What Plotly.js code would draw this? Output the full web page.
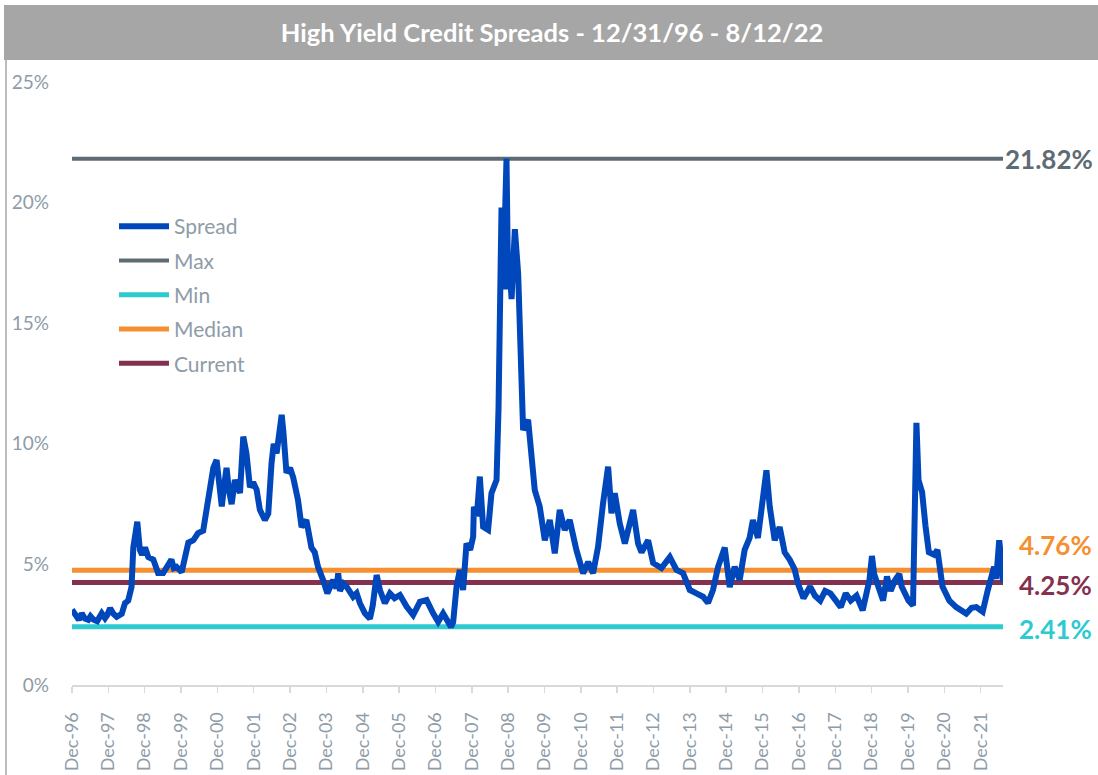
<!DOCTYPE html>
<html>
<head>
<meta charset="utf-8">
<script src="https://cdn.plot.ly/plotly-3.0.1.min.js"></script>
<style>
html,body{margin:0;padding:0;background:#fff;}
#chart{width:1098px;height:775px;}
</style>
</head>
<body>
<div id="chart"></div>
<script>
// ---- Data ----
const spreadDates = [
'1996-12-31','1997-01-20','1997-02-15','1997-03-10','1997-04-08','1997-05-10','1997-06-12','1997-07-05','1997-08-02','1997-09-10','1997-10-26','1997-11-28','1997-12-20',
'1998-01-18','1998-02-20','1998-03-25','1998-05-15','1998-06-17','1998-07-19','1998-08-21','1998-09-08','1998-10-05','1998-10-18','1998-11-13','1998-12-05',
'1999-01-04','1999-02-06','1999-03-28','1999-05-15','1999-07-05','1999-08-10','1999-09-26','1999-10-20','1999-11-16',
'2000-01-07','2000-02-10','2000-03-14','2000-05-03','2000-06-20','2000-08-10','2000-09-30','2000-10-25','2000-11-20','2000-12-23',
'2001-01-20','2001-02-13','2001-03-10','2001-04-02','2001-04-25','2001-05-23','2001-06-25','2001-07-20','2001-08-15','2001-09-17','2001-10-19','2001-11-23','2001-12-25',
'2002-01-29','2002-03-03','2002-04-22','2002-05-26','2002-06-28','2002-07-20','2002-08-18','2002-10-08','2002-10-25','2002-11-25','2002-12-31',
'2003-02-01','2003-03-21','2003-04-26','2003-06-13','2003-08-03','2003-09-05','2003-10-08','2003-11-28',
'2004-01-10','2004-03-09','2004-04-10','2004-04-28','2004-05-15','2004-06-20','2004-07-21','2004-09-25','2004-10-30','2004-12-02',
'2005-01-21','2005-03-13','2005-04-10','2005-05-19','2005-06-21','2005-08-10','2005-09-29','2005-11-15',
'2006-01-08','2006-03-16','2006-05-21','2006-07-28','2006-10-03','2006-12-08',
'2007-01-27','2007-03-18','2007-05-25','2007-06-05','2007-06-27','2007-07-31','2007-09-02','2007-10-05','2007-11-08','2007-12-15',
'2008-01-14','2008-01-21','2008-02-20','2008-03-21','2008-04-23','2008-06-12','2008-07-16','2008-09-05','2008-09-25','2008-10-08','2008-10-25','2008-11-10','2008-11-27','2008-12-14','2008-12-31',
'2009-01-15','2009-02-03','2009-03-08','2009-04-10','2009-04-27','2009-05-14','2009-05-30','2009-07-19','2009-08-22','2009-09-24','2009-11-13',
'2010-01-03','2010-02-22','2010-04-13','2010-06-02','2010-07-22','2010-09-10','2010-11-16',
'2011-01-23','2011-03-15','2011-05-03','2011-06-22','2011-08-11','2011-10-01','2011-11-04','2011-12-07',
'2012-01-26','2012-03-17','2012-06-08','2012-07-28','2012-09-01','2012-11-06','2012-12-26',
'2013-03-20','2013-06-12','2013-08-18','2013-10-23','2013-12-30',
'2014-03-07','2014-05-12','2014-07-01','2014-08-20','2014-10-10','2014-12-16',
'2015-02-04','2015-03-26','2015-05-15','2015-07-04','2015-08-23','2015-09-25','2015-11-14','2015-12-19',
'2016-02-08','2016-03-12','2016-05-01','2016-06-20','2016-08-09','2016-09-28','2016-11-17','2016-12-21',
'2017-02-14','2017-04-22','2017-06-10','2017-08-02','2017-09-20','2017-11-12',
'2018-01-10','2018-02-24','2018-04-15','2018-06-04','2018-08-01','2018-10-02','2018-12-09',
'2019-01-03','2019-01-25','2019-03-05','2019-04-25','2019-06-03','2019-07-10','2019-08-23','2019-10-05','2019-10-29',
'2020-01-05','2020-02-20','2020-03-25','2020-04-15','2020-05-21','2020-06-24','2020-07-28','2020-09-18','2020-10-22','2020-12-12',
'2021-02-19','2021-04-28','2021-06-15','2021-08-08','2021-10-01','2021-11-17','2021-12-31',
'2022-01-20','2022-03-10','2022-05-15','2022-06-05','2022-07-05','2022-07-25','2022-08-12'
];
const spreadValues = [
3.12,3.0,2.83,2.7,2.97,2.75,2.7,2.85,2.72,2.65,2.97,2.77,2.9,
3.18,2.95,2.83,2.95,3.4,3.5,4.06,5.7,6.3,6.77,5.6,5.4,
5.7,5.3,5.2,4.64,4.64,4.9,5.2,4.85,4.9,
4.68,5.2,5.9,6.0,6.3,6.4,7.67,8.0,9.0,9.33,
8.2,7.4,8.3,9.0,8.1,7.5,8.5,8.2,7.96,10.3,9.6,8.2,8.4,
8.1,7.26,6.84,7.1,9.2,10.0,9.6,11.2,10.5,8.8,9.0,
8.6,7.67,6.55,6.84,5.7,5.5,4.9,4.35,
3.8,4.35,4.0,4.63,3.9,4.2,4.08,3.66,3.8,3.39,
2.97,2.75,3.3,4.56,3.94,3.39,3.8,3.6,
3.73,3.25,2.9,3.45,3.52,2.97,
2.62,2.97,2.56,2.41,2.6,4.08,4.77,3.94,5.87,5.6,
6.15,7.39,7.0,8.64,6.56,6.43,7.95,8.5,11.5,16.8,19.8,16.4,20.7,21.82,16.4,
17.3,16.0,18.9,17.07,15.0,12.37,10.57,11.0,9.19,8.08,7.39,
6.0,6.84,5.46,7.26,6.43,6.84,5.6,
4.63,5.1,4.63,5.73,7.53,9.05,7.12,7.95,
6.7,5.87,7.26,5.87,5.5,6.0,5.06,
4.85,5.3,4.77,4.64,3.94,
3.8,3.66,3.4,3.94,4.9,5.7,
4.06,4.9,4.35,5.6,6.1,6.84,6.1,7.4,
8.9,7.4,6.0,6.55,5.5,5.2,4.8,4.2,
3.6,4.08,3.7,3.5,3.9,3.8,
3.5,3.23,3.8,3.5,3.7,3.1,4.35,
5.35,4.6,4.08,3.5,4.5,3.9,4.35,4.6,4.08,
3.5,3.3,10.87,8.5,8.0,6.6,5.5,5.4,5.6,4.08,
3.5,3.23,3.1,2.96,3.2,3.23,3.1,
3.04,3.9,4.9,4.4,6.0,5.2,4.25
];
const maxValue = 21.82;
const minValue = 2.41;
const medianValue = 4.76;
const currentValue = 4.25;
const startDate = '1996-12-31';
const endDate = '2022-08-12';
const tickYears = [1996,1997,1998,1999,2000,2001,2002,2003,2004,2005,2006,2007,2008,2009,2010,2011,2012,2013,2014,2015,2016,2017,2018,2019,2020,2021];
const tickLabels = tickYears.map(y => 'Dec-' + String(y).slice(2));
const yTicks = [0,5,10,15,20,25];
const yTickLabels = yTicks.map(v => v + '%');

// ---- Styles ----
const C = {spread:'#0047BB', max:'#5F6B73', min:'#2ECAD2', median:'#F58F2F', current:'#84314F', text:'#8E9CA8'};
const FONT = 'Lato, "Open Sans", sans-serif';

const flat = (v) => [v, v];
const traces = [
  {x: spreadDates, y: spreadValues, name:'Spread', type:'scatter', mode:'lines', legendgroup:'a', legendrank:1,
   line:{color:C.spread, width:6}},
  {x:[startDate,endDate], y:flat(maxValue), name:'Max', mode:'lines', legendgroup:'b', legendrank:2, line:{color:C.max, width:4}},
  {x:[startDate,endDate], y:flat(minValue), name:'Min', mode:'lines', legendgroup:'c', legendrank:3, line:{color:C.min, width:5}},
  {x:[startDate,endDate], y:flat(medianValue), name:'Median', mode:'lines', legendgroup:'d', legendrank:4, line:{color:C.median, width:5}},
  {x:[startDate,endDate], y:flat(currentValue), name:'Current', mode:'lines', legendgroup:'e', legendrank:5, line:{color:C.current, width:5}}
];
// draw spread on top of the reference lines
const drawOrder = [traces[1],traces[2],traces[3],traces[4],traces[0]];

const fmt = v => v.toFixed(2) + '%';
const annoFont = col => ({family:FONT, size:26, color:col, weight:700});
const annotations = [
  {xref:'paper', yref:'y', x:1, y:maxValue, xanchor:'left', yanchor:'middle', xshift:0, yshift:0,
   text:fmt(maxValue), showarrow:false, font:annoFont(C.max)},
  {xref:'paper', yref:'y', x:1, y:medianValue, xanchor:'left', yanchor:'middle', xshift:14, yshift:25,
   text:fmt(medianValue), showarrow:false, font:annoFont(C.median)},
  {xref:'paper', yref:'y', x:1, y:currentValue, xanchor:'left', yanchor:'middle', xshift:14, yshift:-3,
   text:fmt(currentValue), showarrow:false, font:annoFont(C.current)},
  {xref:'paper', yref:'y', x:1, y:minValue, xanchor:'left', yanchor:'middle', xshift:14, yshift:-2,
   text:fmt(minValue), showarrow:false, font:annoFont(C.min)}
];

const W = 1098, H = 775, L = 72, R = 95, T = 82, B = 90;
const pw = W - L - R, ph = H - T - B;
const px = x => (x - L) / pw;
const py = y => (H - B - y) / ph;

const layout = {
  width: W, height: H,
  margin: {l:L, r:R, t:T, b:B, pad:0},
  paper_bgcolor:'#ffffff', plot_bgcolor:'#ffffff',
  showlegend: true,
  font: {family: FONT, color: C.text},
  title: {text:'High Yield Credit Spreads - 12/31/96 - 8/12/22', xref:'container', yref:'container',
          x: 552/W, y: 1 - 33/H, xanchor:'center', yanchor:'middle',
          font:{family:FONT, size:25.5, color:'#ffffff', weight:700}},
  legend: {x: px(114), y: py(206), xanchor:'left', yanchor:'top', bgcolor:'rgba(0,0,0,0)',
           font:{family:FONT, size:21, color:C.text}, tracegroupgap: 4, itemwidth: 50, traceorder:'grouped'},
  xaxis: {type:'date', range:[startDate, endDate], tickmode:'array',
          tickvals: tickYears.map(y => y + '-12-31'), ticktext: tickLabels,
          tickangle: -90, ticks:'outside', ticklen:6, tickwidth:1.5, tickcolor:'#D9D9D9',
          showline:true, linecolor:'#D9D9D9', linewidth:2, showgrid:false, zeroline:false,
          ticklabelstandoff: 12,
          tickfont:{family:FONT, size:18, color:C.text}, fixedrange:true},
  yaxis: {range:[0,25], tickmode:'array', tickvals:yTicks, ticktext:yTickLabels,
          showgrid:false, zeroline:false, showline:false, ticks:'', ticklabelstandoff: 22,
          tickfont:{family:FONT, size:19, color:C.text}, fixedrange:true},
  shapes: [
    {type:'rect', xref:'paper', yref:'paper', x0:px(4), x1:px(1098), y0:py(60), y1:py(5),
     fillcolor:'#A6A6A6', line:{width:0}, layer:'below'},
    {type:'line', xref:'paper', yref:'paper', x0:px(6), x1:px(6), y0:py(60), y1:py(775),
     line:{color:'#A6A6A6', width:1.5}}
  ],
  annotations: annotations
};

Plotly.newPlot('chart', drawOrder, layout, {displayModeBar:false, staticPlot:true});
</script>
</body>
</html>
